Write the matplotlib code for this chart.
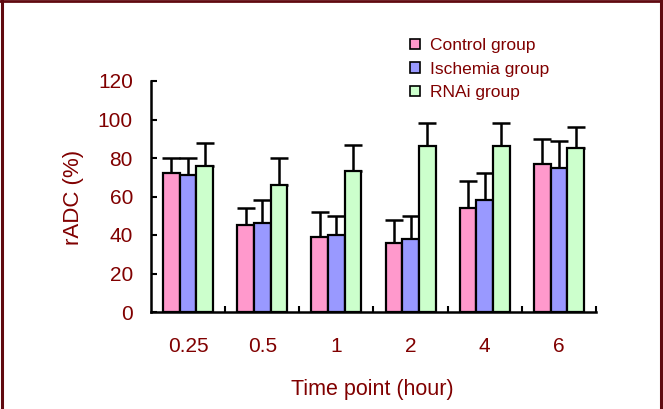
import matplotlib
matplotlib.use("Agg")
import matplotlib.pyplot as plt
import numpy as np
from matplotlib.lines import Line2D

plt.rcParams["font.family"] = ["Liberation Sans", "DejaVu Sans"]

# data
time_points = ["0.25", "0.5", "1", "2", "4", "6"]
control = [72, 45, 39, 36, 54, 77]
control_err = [8, 9, 13, 12, 14, 13]
ischemia = [71, 46, 40, 38, 58, 75]
ischemia_err = [9, 12, 10, 12, 14, 14]
rnai = [76, 66, 73, 86, 86, 85]
rnai_err = [12, 14, 14, 12, 12, 11]

dark_red = "#800000"
colors = ["#FF99CC", "#9999FF", "#CCFFCC"]
labels = ["Control group", "Ischemia group", "RNAi group"]

fig = plt.figure(figsize=(6.63, 4.09), dpi=100)
ax = fig.add_axes([151 / 663, 1 - 312 / 409, 445 / 663, 231 / 409])

x = np.arange(len(time_points))
w = 0.225
series = [(control, control_err), (ischemia, ischemia_err), (rnai, rnai_err)]
for i, (vals, errs) in enumerate(series):
    ax.bar(x + (i - 1) * w, vals, w, color=colors[i], edgecolor="black",
           linewidth=1.6, label=labels[i], zorder=2)
    ax.errorbar(x + (i - 1) * w, vals, yerr=[np.zeros(len(errs)), errs],
                fmt="none", ecolor="black", elinewidth=1.8, capsize=6.5,
                capthick=1.8, zorder=1)

ax.set_xlim(-0.5, len(time_points) - 0.5)
ax.set_ylim(0, 120)
ax.set_yticks(range(0, 121, 20))
ax.set_xticks(x)
ax.set_xticklabels(time_points)
ax.set_xticks(np.arange(0.5, len(time_points)), minor=True)

for s in ["top", "right"]:
    ax.spines[s].set_visible(False)
for s in ["left", "bottom"]:
    ax.spines[s].set_linewidth(1.8)

ax.tick_params(axis="x", which="major", length=0, pad=18, labelsize=15,
               labelcolor=dark_red)
ax.tick_params(axis="x", which="minor", direction="in", length=4, width=1.5)
ax.tick_params(axis="y", direction="in", length=4, width=1.5, pad=13,
               labelsize=15, labelcolor=dark_red)

ax.set_ylabel("rADC (%)", fontsize=16, color=dark_red)
ax.yaxis.set_label_coords(-0.15, 0.498)
ax.set_xlabel("Time point (hour)", fontsize=15.5, color=dark_red)
ax.xaxis.set_label_coords(0.497, -0.29)

leg = ax.legend(loc="upper left", bbox_to_anchor=(410 / 663, 1 - 38 / 409),
                bbox_transform=fig.transFigure, frameon=False, fontsize=12.5,
                handlelength=0.55, handleheight=0.55, handletextpad=0.6,
                labelspacing=0.5, borderpad=0, borderaxespad=0,
                labelcolor=dark_red)
for h in leg.legend_handles:
    h.set_linewidth(1.2)

# dark red frame on left, top and right
frame = "#600a10"
W, H = 663, 409
fig.add_artist(Line2D([1.5 / W, 1.5 / W], [0, 1], color=frame, lw=2.2))
fig.add_artist(Line2D([0, 1], [1 - 1.2 / H, 1 - 1.2 / H], color=frame, lw=2))
fig.add_artist(Line2D([661 / W, 661 / W], [0, 1], color=frame, lw=2.2))

fig.savefig("out.png", dpi=100)
plt.close(fig)
